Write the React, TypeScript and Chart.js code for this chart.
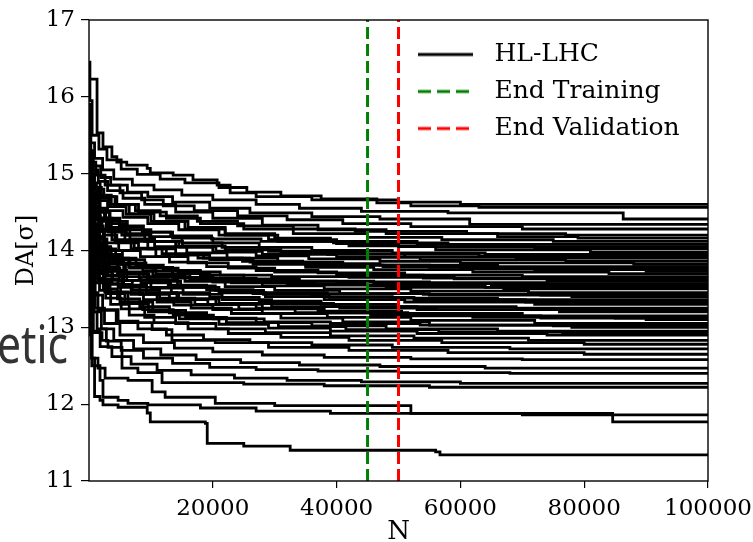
import React, { useEffect, useRef } from 'react';
import { Chart, registerables } from 'chart.js';

Chart.register(...registerables);

// ---------- tick labels / markers ----------
const xTickValues = [20000, 40000, 60000, 80000, 100000];
const yTickValues = [11, 12, 13, 14, 15, 16, 17];
const endTrainingN = 45000;
const endValidationN = 50000;
const legendLabels = ['HL-LHC', 'End Training', 'End Validation'];
const overlayWord = 'etic';

// ---------- runs: [N, DA] breakpoints (value holds from N onward) ----------
const run01 = [[0, 16.23], [1300, 15.53], [2260, 15.35], [3700, 15.22], [4500, 15.15], [6100, 15.11], [9400, 15.07], [9900, 15.01], [13600, 14.98], [16800, 14.92], [20700, 14.85], [22800, 14.75], [27000, 14.70], [36000, 14.66], [50000, 14.63], [60000, 14.60], [100000, 14.60]];
const run02 = [[0, 16.45], [150, 15.95], [500, 15.5], [1600, 15.32], [2900, 15.18], [5200, 15.06], [7800, 14.99], [11500, 14.93], [15500, 14.88], [21000, 14.82], [25500, 14.76], [31000, 14.71], [37500, 14.67], [46500, 14.62], [52000, 14.58], [63000, 14.56], [100000, 14.56]];
const run03 = [[0, 15.9], [250, 15.4], [900, 15.2], [2200, 15.05], [4000, 14.93], [7000, 14.85], [10500, 14.79], [15000, 14.72], [20000, 14.66], [27000, 14.60], [34000, 14.55], [44000, 14.51], [58000, 14.49], [86300, 14.41], [100000, 14.41]];
const run04 = [[0, 15.8], [200, 15.3], [700, 15.1], [1900, 14.95], [3500, 14.85], [6200, 14.76], [9500, 14.70], [13500, 14.63], [19500, 14.55], [26000, 14.49], [36000, 14.44], [47000, 14.41], [61500, 14.34], [100000, 14.34]];
const run05 = [[0, 15.6], [300, 15.15], [1100, 14.98], [2600, 14.85], [5000, 14.75], [8500, 14.66], [12000, 14.58], [17000, 14.52], [24000, 14.45], [32000, 14.40], [41000, 14.35], [52000, 14.31], [70000, 14.28], [100000, 14.28]];
const run06 = [[0, 15.75], [180, 15.25], [600, 15.05], [1500, 14.9], [3000, 14.78], [5500, 14.68], [9000, 14.6], [14000, 14.5], [20000, 14.42], [28000, 14.33], [37000, 14.27], [48000, 14.22], [66000, 14.18], [79000, 14.16], [100000, 14.16]];
const run07 = [[0, 15.4], [250, 14.95], [900, 14.8], [2400, 14.7], [4500, 14.6], [8000, 14.5], [12500, 14.42], [18000, 14.35], [25000, 14.28], [33000, 14.22], [45000, 14.17], [57000, 14.14], [75000, 14.12], [100000, 14.12]];
const run08 = [[0, 15.5], [150, 15.0], [500, 14.82], [1400, 14.68], [3200, 14.57], [6000, 14.47], [10000, 14.38], [16000, 14.3], [22000, 14.22], [30000, 14.16], [39000, 14.12], [53000, 14.08], [68000, 14.05], [100000, 14.05]];
const run09 = [[0, 15.3], [300, 14.85], [1200, 14.65], [3000, 14.52], [5500, 14.43], [9500, 14.35], [14500, 14.27], [21000, 14.2], [29000, 14.14], [40000, 14.09], [50000, 14.05], [72000, 14.02], [100000, 14.02]];
const run10 = [[0, 15.65], [200, 15.1], [700, 14.88], [1800, 14.72], [3600, 14.6], [6500, 14.48], [10500, 14.38], [15500, 14.28], [22000, 14.2], [30500, 14.12], [42000, 14.06], [56000, 14.01], [81000, 13.98], [100000, 13.98]];
const run11 = [[0, 15.2], [250, 14.75], [1000, 14.55], [2700, 14.42], [5000, 14.32], [8800, 14.24], [13500, 14.16], [20000, 14.1], [27500, 14.04], [36000, 14.0], [49000, 13.97], [64000, 13.95], [100000, 13.95]];
const run12 = [[0, 15.45], [150, 14.9], [600, 14.65], [1600, 14.5], [3400, 14.38], [6200, 14.27], [10000, 14.18], [15000, 14.1], [21500, 14.04], [29000, 13.99], [38500, 13.95], [51000, 13.92], [69000, 13.9], [100000, 13.9]];
const run13 = [[0, 15.1], [300, 14.6], [1100, 14.42], [2800, 14.3], [5300, 14.2], [9000, 14.12], [14000, 14.05], [20500, 13.99], [28000, 13.95], [40000, 13.91], [53500, 13.88], [77000, 13.86], [100000, 13.86]];
const run14 = [[0, 15.55], [200, 14.95], [650, 14.7], [1700, 14.5], [3300, 14.35], [6000, 14.22], [9800, 14.12], [14500, 14.04], [20000, 13.98], [27000, 13.93], [35500, 13.89], [47000, 13.86], [60000, 13.84], [88000, 13.82], [100000, 13.82]];
const run15 = [[0, 15.0], [250, 14.5], [900, 14.32], [2300, 14.2], [4500, 14.1], [8000, 14.02], [12500, 13.95], [18500, 13.9], [26000, 13.85], [35000, 13.81], [47500, 13.79], [60000, 13.76], [100000, 13.76]];
const run16 = [[0, 15.35], [180, 14.8], [600, 14.55], [1500, 14.38], [3100, 14.24], [5800, 14.12], [9500, 14.02], [14000, 13.94], [19500, 13.88], [26500, 13.82], [35000, 13.78], [46000, 13.75], [62000, 13.72], [84000, 13.7], [100000, 13.7]];
const run17 = [[0, 14.95], [300, 14.45], [1000, 14.25], [2500, 14.1], [4800, 14.0], [8300, 13.92], [13000, 13.85], [19000, 13.79], [27000, 13.74], [37000, 13.71], [51000, 13.68], [70000, 13.66], [100000, 13.66]];
const run18 = [[0, 15.25], [200, 14.7], [700, 14.45], [1800, 14.28], [3700, 14.14], [6800, 14.02], [10800, 13.92], [16000, 13.84], [22500, 13.77], [30000, 13.72], [40000, 13.68], [54000, 13.64], [74000, 13.6], [100000, 13.6]];
const run19 = [[0, 14.9], [250, 14.4], [900, 14.18], [2200, 14.02], [4300, 13.9], [7600, 13.81], [12000, 13.74], [18000, 13.68], [25000, 13.63], [34000, 13.6], [46000, 13.57], [65000, 13.55], [100000, 13.55]];
const run20 = [[0, 15.15], [150, 14.6], [550, 14.35], [1400, 14.15], [2900, 14.0], [5400, 13.88], [9000, 13.78], [13500, 13.7], [19500, 13.64], [27000, 13.59], [36500, 13.55], [48000, 13.52], [67000, 13.5], [100000, 13.5]];
const run21 = [[0, 14.85], [300, 14.3], [1050, 14.08], [2600, 13.93], [5000, 13.82], [8700, 13.73], [13500, 13.65], [20000, 13.59], [28000, 13.54], [38000, 13.5], [52000, 13.47], [71000, 13.45], [100000, 13.45]];
const run22 = [[0, 15.05], [200, 14.5], [700, 14.25], [1700, 14.05], [3500, 13.9], [6400, 13.78], [10300, 13.68], [15500, 13.6], [22000, 13.53], [30000, 13.48], [40500, 13.44], [55000, 13.42], [78000, 13.4], [100000, 13.4]];
const run23 = [[0, 14.8], [250, 14.25], [900, 14.0], [2300, 13.83], [4600, 13.71], [8100, 13.62], [12800, 13.55], [19000, 13.49], [26500, 13.44], [36000, 13.4], [49000, 13.38], [66000, 13.36], [100000, 13.36]];
const run24 = [[0, 15.0], [180, 14.45], [600, 14.18], [1500, 13.98], [3100, 13.82], [5900, 13.7], [9700, 13.6], [14800, 13.52], [21000, 13.45], [28500, 13.4], [38000, 13.36], [51000, 13.33], [72000, 13.3], [100000, 13.3]];
const run25 = [[0, 14.7], [300, 14.15], [1000, 13.9], [2500, 13.73], [4900, 13.61], [8500, 13.52], [13300, 13.45], [19500, 13.39], [27500, 13.34], [37500, 13.3], [50000, 13.27], [69000, 13.25], [100000, 13.25]];
const run26 = [[0, 14.95], [200, 14.4], [650, 14.1], [1600, 13.9], [3300, 13.74], [6100, 13.61], [10000, 13.51], [15200, 13.43], [21500, 13.36], [29500, 13.31], [39500, 13.27], [53000, 13.23], [76000, 13.2], [100000, 13.2]];
const run27 = [[0, 14.6], [250, 14.05], [950, 13.8], [2400, 13.63], [4700, 13.52], [8200, 13.43], [13000, 13.36], [19200, 13.3], [27000, 13.25], [37000, 13.21], [50500, 13.18], [70000, 13.15], [100000, 13.15]];
const run28 = [[0, 14.9], [150, 14.35], [550, 14.05], [1400, 13.85], [3000, 13.68], [5600, 13.55], [9300, 13.45], [14200, 13.37], [20500, 13.3], [28000, 13.24], [38000, 13.19], [51500, 13.15], [73000, 13.12], [90000, 13.1], [100000, 13.1]];
const run29 = [[0, 14.55], [300, 14.0], [1000, 13.75], [2600, 13.57], [5100, 13.45], [8800, 13.36], [13700, 13.29], [20000, 13.23], [28000, 13.18], [38500, 13.13], [52000, 13.09], [72000, 13.05], [100000, 13.05]];
const run30 = [[0, 14.75], [200, 14.2], [700, 13.92], [1800, 13.72], [3700, 13.56], [6800, 13.43], [11000, 13.33], [16500, 13.25], [23000, 13.18], [31000, 13.12], [41000, 13.07], [55000, 13.03], [78000, 13.0], [100000, 13.0]];
const run31 = [[0, 14.5], [250, 13.95], [900, 13.7], [2300, 13.5], [4600, 13.37], [8200, 13.27], [13000, 13.19], [19000, 13.12], [27000, 13.06], [36000, 13.02], [48000, 12.98], [66000, 12.95], [100000, 12.95]];
const run32 = [[0, 14.65], [180, 14.1], [600, 13.82], [1500, 13.6], [3100, 13.44], [5800, 13.31], [9600, 13.2], [14600, 13.11], [21000, 13.04], [29000, 12.99], [39000, 12.95], [53000, 12.92], [74000, 12.9], [100000, 12.9]];
const run33 = [[0, 14.4], [300, 13.85], [1050, 13.58], [2700, 13.38], [5200, 13.24], [9000, 13.13], [14000, 13.05], [20500, 12.98], [28500, 12.93], [39000, 12.89], [52500, 12.86], [71000, 12.83], [100000, 12.83]];
const run34 = [[0, 14.6], [200, 14.0], [700, 13.7], [1700, 13.48], [3500, 13.3], [6500, 13.16], [10500, 13.06], [16000, 12.98], [22500, 12.92], [31000, 12.87], [42000, 12.83], [57000, 12.8], [80000, 12.78], [100000, 12.78]];
const run35 = [[0, 14.3], [250, 13.7], [900, 13.42], [2200, 13.22], [4400, 13.08], [7900, 12.98], [12500, 12.9], [18500, 12.84], [26000, 12.8], [36000, 12.77], [49000, 12.74], [68000, 12.72], [100000, 12.72]];
const run36 = [[0, 14.45], [200, 13.8], [600, 13.45], [1450, 13.23], [4700, 13.06], [10200, 12.97], [13400, 12.83], [20400, 12.8], [29000, 12.74], [42000, 12.7], [58000, 12.67], [80000, 12.65], [100000, 12.65]];
const run37 = [[0, 14.2], [300, 13.55], [1000, 13.25], [2500, 13.05], [5000, 12.9], [8800, 12.8], [13800, 12.73], [20000, 12.68], [28000, 12.64], [38000, 12.61], [52000, 12.59], [70000, 12.58], [100000, 12.58]];
const run38 = [[0, 14.35], [150, 13.6], [500, 13.2], [1300, 12.98], [2800, 12.82], [5200, 12.7], [8800, 12.6], [13500, 12.53], [19500, 12.48], [27000, 12.45], [37000, 12.43], [50000, 12.41], [68000, 12.4], [100000, 12.4]];
const run39 = [[0, 14.1], [200, 13.3], [700, 12.95], [1800, 12.75], [3700, 12.62], [6800, 12.52], [11000, 12.44], [16500, 12.38], [23500, 12.34], [32000, 12.31], [44000, 12.29], [60000, 12.27], [100000, 12.27]];
const run40 = [[0, 13.9], [200, 13.2], [480, 12.93], [2100, 12.83], [3070, 12.74], [5330, 12.47], [7900, 12.41], [11800, 12.28], [25000, 12.26], [38000, 12.24], [55000, 12.22], [100000, 12.22]];
const run41 = [[0, 13.8], [150, 13.0], [500, 12.6], [1450, 12.47], [2600, 12.34], [6300, 12.31], [10200, 12.16], [12300, 12.09], [20400, 12.01], [30000, 11.98], [52000, 11.88], [70000, 11.86], [100000, 11.86]];
const run42 = [[0, 13.6], [150, 12.9], [450, 12.5], [1777, 12.31], [2260, 12.09], [4700, 12.05], [6300, 12.01], [9500, 11.99], [18000, 11.95], [27000, 11.91], [39000, 11.88], [84600, 11.77], [100000, 11.77]];
const run43 = [[0, 14.9], [150, 13.2], [400, 12.6], [900, 12.1], [1777, 12.05], [2260, 11.99], [4700, 11.96], [9400, 11.885], [9900, 11.77], [18800, 11.75], [19100, 11.49], [25000, 11.455], [32500, 11.40], [56000, 11.38], [56700, 11.34], [100000, 11.34]];
const run44 = [[0, 15.5], [200, 15.0], [800, 14.82], [2000, 14.7], [4200, 14.6], [7500, 14.52], [11500, 14.45], [17500, 14.38], [24000, 14.32], [33000, 14.28], [43000, 14.25], [61000, 14.22], [77000, 14.20], [100000, 14.20]];
const run45 = [[0, 15.2], [250, 14.7], [950, 14.52], [2500, 14.4], [4900, 14.3], [8600, 14.24], [13200, 14.19], [19800, 14.15], [27800, 14.12], [39500, 14.10], [58000, 14.08], [100000, 14.08]];
const run46 = [[0, 15.35], [170, 14.82], [620, 14.58], [1650, 14.42], [3300, 14.3], [6000, 14.2], [9900, 14.12], [15100, 14.06], [22000, 14.01], [31000, 13.98], [44500, 13.96], [63000, 13.93], [100000, 13.93]];
const run47 = [[0, 15.15], [220, 14.62], [820, 14.4], [2100, 14.25], [4200, 14.12], [7300, 14.03], [11800, 13.96], [17600, 13.9], [24800, 13.86], [34500, 13.83], [47000, 13.81], [66000, 13.79], [100000, 13.79]];
const run48 = [[0, 14.85], [280, 14.32], [1050, 14.1], [2700, 13.95], [5300, 13.84], [9200, 13.77], [14400, 13.72], [21200, 13.68], [29500, 13.66], [42000, 13.65], [59000, 13.63], [100000, 13.63]];
const run49 = [[0, 15.0], [190, 14.45], [680, 14.2], [1750, 14.02], [3600, 13.88], [6600, 13.77], [10800, 13.69], [16300, 13.62], [23000, 13.58], [32000, 13.56], [45000, 13.54], [64000, 13.52], [100000, 13.52]];
const run50 = [[0, 14.75], [260, 14.2], [960, 13.95], [2450, 13.78], [4850, 13.66], [8400, 13.58], [13200, 13.52], [19600, 13.48], [27800, 13.45], [38500, 13.44], [54000, 13.43], [73000, 13.42], [100000, 13.42]];
const run51 = [[0, 15.1], [160, 14.55], [580, 14.25], [1450, 14.02], [3000, 13.85], [5600, 13.72], [9400, 13.62], [14300, 13.54], [20400, 13.48], [28200, 13.43], [38800, 13.39], [52500, 13.36], [70500, 13.33], [100000, 13.33]];
const run52 = [[0, 14.65], [300, 14.1], [1100, 13.85], [2750, 13.67], [5400, 13.54], [9300, 13.44], [14500, 13.37], [21000, 13.31], [29500, 13.27], [40500, 13.25], [56000, 13.23], [79000, 13.22], [100000, 13.22]];
const run53 = [[0, 14.85], [210, 14.3], [720, 14.0], [1850, 13.78], [3800, 13.61], [7000, 13.48], [11400, 13.38], [17100, 13.3], [24200, 13.24], [33300, 13.19], [45500, 13.16], [62000, 13.13], [85000, 13.12], [100000, 13.12]];
const run54 = [[0, 14.45], [280, 13.9], [1000, 13.64], [2550, 13.46], [5000, 13.33], [8700, 13.23], [13600, 13.16], [20100, 13.11], [28300, 13.07], [39000, 13.05], [53500, 13.03], [75000, 13.02], [100000, 13.02]];
const run55 = [[0, 14.7], [190, 14.12], [650, 13.84], [1650, 13.62], [3400, 13.46], [6300, 13.33], [10300, 13.22], [15600, 13.13], [22200, 13.06], [30600, 13.01], [41500, 12.97], [56500, 12.94], [76500, 12.92], [100000, 12.92]];
const run56 = [[0, 14.25], [220, 13.55], [800, 13.2], [2000, 12.98], [4000, 12.83], [7200, 12.72], [11600, 12.64], [17300, 12.58], [24500, 12.54], [34000, 12.51], [47000, 12.49], [64000, 12.47], [100000, 12.47]];
const run57 = [[0, 15.45], [200, 14.9], [700, 14.62], [1800, 14.42], [3600, 14.27], [6600, 14.15], [10600, 14.05], [15800, 13.97], [22300, 13.9], [30500, 13.85], [41000, 13.81], [55000, 13.78], [72000, 13.75], [90000, 13.73], [100000, 13.73]];
const run58 = [[0, 14.6], [270, 14.08], [1000, 13.88], [2600, 13.77], [5000, 13.7], [8800, 13.66], [13800, 13.64], [20500, 13.62], [29000, 13.6], [40000, 13.59], [55000, 13.58], [74000, 13.57], [100000, 13.57]];

const hlLhcRuns = [
  run01, run02, run03, run04, run05, run06, run07, run08, run09, run10,
  run11, run12, run13, run14, run15, run16, run17, run18, run19, run20,
  run21, run22, run23, run24, run25, run26, run27, run28, run29, run30,
  run31, run32, run33, run34, run35, run36, run37, run38, run39, run40,
  run41, run42, run43, run44, run45, run46, run47, run48, run49, run50,
  run51, run52, run53, run54, run55, run56, run57, run58,
];

const FONT = '"DejaVu Serif", "Liberation Serif", serif';

function makeSample(color: string, dash: number[]) {
  const c = document.createElement('canvas');
  c.width = 64;
  c.height = 8;
  const g = c.getContext('2d')!;
  g.strokeStyle = color;
  g.lineWidth = 2.8;
  g.setLineDash(dash);
  g.beginPath();
  g.moveTo(0, 4);
  g.lineTo(55, 4);
  g.stroke();
  return c;
}

export default function App() {
  const ref = useRef<HTMLCanvasElement>(null);

  useEffect(() => {
    const canvas = ref.current;
    if (!canvas) return;

    const samples = [
      makeSample('#000000', []),
      makeSample('#008000', [13, 6]),
      makeSample('#ff0000', [13, 6]),
    ];

    const lineSets = hlLhcRuns.map((run, i) => ({
      label: i === 0 ? legendLabels[0] : '',
      data: run.map(([x, y]) => ({ x, y })),
      borderColor: '#000000',
      backgroundColor: '#000000',
      borderWidth: 2.8,
      pointRadius: 0,
      stepped: 'before' as const,
      fill: false,
      order: 2,
    }));

    const vline = (n: number, color: string, label: string) => ({
      label,
      data: [{ x: n, y: yTickValues[0] }, { x: n, y: yTickValues[yTickValues.length - 1] }],
      borderColor: color,
      backgroundColor: color,
      borderWidth: 3,
      borderDash: [12, 5],
      pointRadius: 0,
      fill: false,
      order: 0,
    });

    const framePlugin = {
      id: 'frame',
      afterDatasetsDraw(chart: any) {
        const { ctx, chartArea: a } = chart;
        ctx.save();
        ctx.strokeStyle = '#000';
        ctx.lineWidth = 1.4;
        ctx.strokeRect(a.left, a.top, a.right - a.left, a.bottom - a.top);
        ctx.restore();
      },
    };

    const legendPlacer = {
      id: 'legendPlacer',
      afterLayout(chart: any) {
        const lg = chart.legend;
        if (!lg) return;
        const w = lg.width;
        const h = lg.height;
        lg.left = 406;
        lg.right = 406 + w;
        lg.top = 30;
        lg.bottom = 30 + h;
      },
    };

    const chart = new Chart(canvas, {
      type: 'line',
      data: {
        datasets: [
          vline(endTrainingN, '#008000', legendLabels[1]),
          vline(endValidationN, '#ff0000', legendLabels[2]),
          ...lineSets,
        ] as any,
      },
      options: {
        animation: false,
        responsive: false,
        devicePixelRatio: 1,
        events: [],
        layout: { padding: { left: 0, right: 45, top: 20, bottom: 0 } },
        font: { family: FONT },
        plugins: {
          tooltip: { enabled: false },
          legend: {
            display: true,
            position: 'chartArea',
            align: 'start',
            labels: {
              usePointStyle: true,
              pointStyleWidth: 64,
              padding: 12,
              color: '#000',
              font: { family: FONT, size: 25 },
              generateLabels: () =>
                legendLabels.map((text, i) => ({
                  text,
                  pointStyle: samples[i] as any,
                  fillStyle: 'rgba(0,0,0,0)',
                  strokeStyle: 'rgba(0,0,0,0)',
                  lineWidth: 0,
                  hidden: false,
                  datasetIndex: i,
                  fontColor: '#000',
                })),
            },
          },
        },
        scales: {
          x: {
            type: 'linear',
            min: 0,
            max: 100000,
            afterBuildTicks: (ax: any) => {
              ax.ticks = xTickValues.map((v) => ({ value: v }));
            },
            afterFit: (ax: any) => {
              ax.height = 61;
            },
            ticks: {
              autoSkip: false,
              maxRotation: 0,
              padding: 1,
              color: '#000',
              font: { family: FONT, size: 23, lineHeight: 1.75 },
              callback: (v: any) => String(v),
            },
            grid: {
              display: true,
              drawOnChartArea: false,
              drawTicks: true,
              tickLength: 7,
              color: '#000',
              lineWidth: 1.2,
            },
            border: { display: false },
            title: {
              display: true,
              text: 'N',
              color: '#000',
              font: { family: FONT, size: 26, lineHeight: 1 },
              padding: { top: 0, bottom: -3 },
            },
          },
          y: {
            type: 'linear',
            min: 11,
            max: 17,
            afterBuildTicks: (ax: any) => {
              ax.ticks = yTickValues.map((v) => ({ value: v }));
            },
            afterFit: (ax: any) => {
              ax.width = 89;
            },
            ticks: {
              autoSkip: false,
              padding: 6,
              color: '#000',
              font: { family: FONT, size: 23 },
              callback: (v: any) => String(v),
            },
            grid: {
              display: true,
              drawOnChartArea: false,
              drawTicks: true,
              tickLength: 8,
              color: '#000',
              lineWidth: 1.2,
            },
            border: { display: false },
            title: {
              display: true,
              text: 'DA[σ]',
              color: '#000',
              font: { family: FONT, size: 24, lineHeight: 1.2 },
              padding: { top: 12, bottom: 0 },
            },
          },
        },
      },
      plugins: [framePlugin, legendPlacer],
    });

    return () => {
      chart.destroy();
    };
  }, []);

  return (
    <div style={{ position: 'absolute', left: 0, top: 0, width: 753, height: 542, background: '#fff', overflow: 'hidden' }}>
      <canvas ref={ref} width={753} height={542} style={{ display: 'block', width: 753, height: 542 }} />
      <div
        style={{
          position: 'absolute',
          left: -3,
          top: 317,
          fontFamily: '"Noto Sans", sans-serif',
          fontSize: 52,
          lineHeight: '52px',
          color: '#333',
          whiteSpace: 'nowrap',
          pointerEvents: 'none',
          transform: 'scaleX(0.82)',
          transformOrigin: '0 0',
        }}
      >
        {overlayWord}
      </div>
    </div>
  );
}
